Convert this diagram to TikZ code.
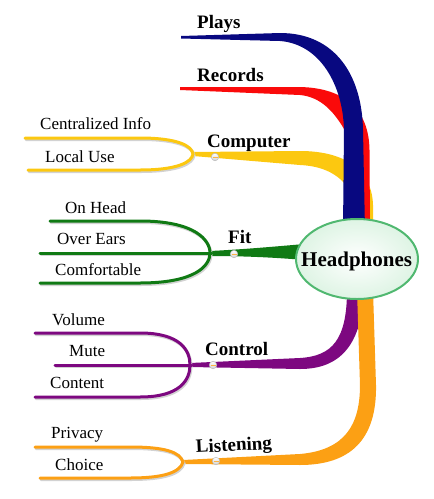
\documentclass[tikz,border=0pt]{standalone}
\usepackage{fontspec}
\setmainfont{Liberation Serif}
\usetikzlibrary{shadings,shapes.geometric}
\definecolor{cblue}{RGB}{8,8,128}
\definecolor{cred}{RGB}{250,10,10}
\definecolor{cyellow}{RGB}{252,200,16}
\definecolor{cgreen}{RGB}{16,122,20}
\definecolor{cpurple}{RGB}{125,8,128}
\definecolor{corange}{RGB}{252,160,20}
\definecolor{cborder}{RGB}{80,184,112}
\definecolor{cfill}{RGB}{222,244,228}
\begin{document}
\begin{tikzpicture}[x=1pt,y=-1pt,
  main/.style={font=\bfseries\fontsize{19}{22}\selectfont,anchor=base west,inner sep=0pt},
  sub/.style={font=\fontsize{17}{20}\selectfont,anchor=base west,inner sep=0pt},
  tine/.style={line width=3pt,line cap=round},
  shadow/.style={line width=3pt,line cap=round,draw=gray!35},
  knob/.style={circle,minimum size=7.5pt,inner sep=0pt,draw=gray!55,line width=0.5pt,
    top color=white,bottom color=gray!35}]
\useasboundingbox (0,0) rectangle (434,499);
% ---------- main branches ----------
% Computer (yellow)
\fill[cyellow] (193,152) -- (300,151) .. controls (345,151) and (372,170) .. (373,205) -- (373,230)
  -- (346,230) -- (346,185) .. controls (335,172) and (320,166) .. (300,165) -- (193,156) -- cycle;
% Records (red)
\fill[cred] (180,87) -- (300,87) .. controls (345,88) and (369,110) .. (369.5,150) -- (370,230)
  -- (350,230) -- (350,140) .. controls (335,110) and (320,97) .. (300,95) -- (180,90) -- cycle;
% Plays (blue)
\fill[cblue] (181,36) -- (280,33) .. controls (335,33) and (362,75) .. (363,130) -- (365,230)
  -- (343,230) -- (344,130) .. controls (343,85) and (320,44) .. (280,41) -- (181,38.5) -- cycle;
% Fit (green)
\fill[cgreen] (210,251) .. controls (250,249) and (280,246) .. (305,244) -- (305,260)
  .. controls (280,258) and (250,256) .. (210,256) -- cycle;
% Control (purple)
\fill[cpurple] (190,363) -- (300,358) .. controls (332,356) and (347,340) .. (347,290) -- (364,290)
  .. controls (362,345) and (340,369) .. (300,369) -- (190,367) -- cycle;
% Listening (orange)
\fill[corange] (183,460) -- (300,454) .. controls (345,450) and (360,425) .. (360,385) -- (357,290)
  -- (373,290) -- (376,385) .. controls (377,440) and (350,465) .. (300,465) -- (183,464) -- cycle;
% ---------- forks ----------
\begin{scope}[shift={(1,1.5)}]
\draw[shadow] (25,138) -- (140,138) .. controls (178,138) and (192,146) .. (193,154)
  .. controls (192,162) and (178,170) .. (140,170) -- (28,170);
\draw[shadow] (50,221) -- (140,221) .. controls (195,221) and (210,240) .. (210,253)
  .. controls (210,266) and (195,283) .. (140,283) -- (40,283);
\draw[shadow] (40,253) -- (210,253);
\draw[shadow] (35,333) -- (140,333) .. controls (180,333) and (190,350) .. (190,365)
  .. controls (190,380) and (180,397) .. (140,397) -- (35,397);
\draw[shadow] (55,365) -- (190,365);
\draw[shadow] (35,447) -- (130,447) .. controls (165,447) and (180,452) .. (183,462)
  .. controls (180,472) and (165,478) .. (130,478) -- (40,478);
\end{scope}
\draw[tine,cyellow] (25,138) -- (140,138) .. controls (178,138) and (192,146) .. (193,154)
  .. controls (192,162) and (178,170) .. (140,170) -- (28,170);
\draw[tine,cgreen] (50,221) -- (140,221) .. controls (195,221) and (210,240) .. (210,253)
  .. controls (210,266) and (195,283) .. (140,283) -- (40,283);
\draw[tine,cgreen] (40,253) -- (212,253);
\draw[tine,cpurple] (35,333) -- (140,333) .. controls (180,333) and (190,350) .. (190,365)
  .. controls (190,380) and (180,397) .. (140,397) -- (35,397);
\draw[tine,cpurple] (55,365) -- (192,365);
\draw[tine,corange] (35,447) -- (130,447) .. controls (165,447) and (180,452) .. (183,462)
  .. controls (180,472) and (165,478) .. (130,478) -- (40,478);
% ---------- knobs ----------
\foreach \n/\p in {kc/{(215,157)},kf/{(234,254)},kk/{(213,365)},kl/{(216,461)}}{
  \node[knob] (\n) at \p {};
  \draw[corange!80,line width=0.8pt] ([xshift=-2.5pt]\n.center) -- ([xshift=2.5pt]\n.center);
}
% ---------- central node ----------
\node[ellipse,minimum width=122pt,minimum height=80pt,draw=cborder,line width=2pt,
  inner color=white,outer color=cfill] (hp) at (357,259) {};
\node[font=\bfseries\fontsize{21}{24}\selectfont,anchor=base west,inner sep=0pt] (hpt) at (301,266) {Headphones};
% ---------- labels ----------
\node[main] (plays) at (197,28) {Plays};
\node[main] (records) at (197,81) {Records};
\node[main] (computer) at (207,147) {Computer};
\node[main] (fit) at (228,243) {Fit};
\node[main] (control) at (205,355) {Control};
\node[main,rotate=3] (listening) at (196,453) {Listening};
\node[sub] (ci) at (40,129) {Centralized Info};
\node[sub] (lu) at (45,162) {Local Use};
\node[sub] (oh) at (65,213) {On Head};
\node[sub] (oe) at (57,244) {Over Ears};
\node[sub] (cf) at (55,275) {Comfortable};
\node[sub] (vo) at (52,325) {Volume};
\node[sub] (mu) at (69,356) {Mute};
\node[sub] (co) at (50,388) {Content};
\node[sub] (pr) at (51,438) {Privacy};
\node[sub] (ch) at (55,470) {Choice};
\end{tikzpicture}
\end{document}
